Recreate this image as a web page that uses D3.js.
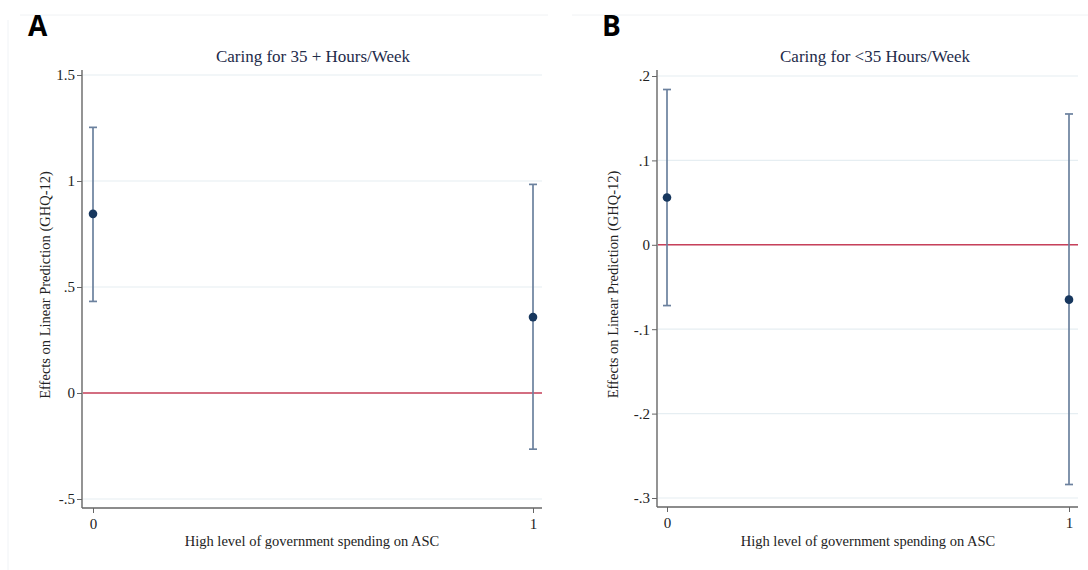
<!DOCTYPE html>
<html>
<head>
<meta charset="utf-8">
<script src="https://cdn.jsdelivr.net/npm/d3@7"></script>
<style>
  html, body { margin: 0; padding: 0; background: #fff; }
  svg { display: block; }
</style>
</head>
<body>
<svg id="chart" width="1088" height="570"></svg>
<script>
// ---- Data ----
const categories = [0, 1];
const categoryLabels = ["0", "1"];

// Panel A: Caring for 35 + Hours/Week
const estA = [0.845, 0.358];
const lowA = [0.432, -0.265];
const highA = [1.253, 0.984];
const yTicksA = [-0.5, 0, 0.5, 1, 1.5];
const yTickLabelsA = ["-.5", "0", ".5", "1", "1.5"];

// Panel B: Caring for <35 Hours/Week
const estB = [0.056, -0.065];
const lowB = [-0.072, -0.284];
const highB = [0.184, 0.155];
const yTicksB = [-0.3, -0.2, -0.1, 0, 0.1, 0.2];
const yTickLabelsB = ["-.3", "-.2", "-.1", "0", ".1", ".2"];

const titles = ["Caring for 35 + Hours/Week", "Caring for <35 Hours/Week"];
const panelLetters = ["A", "B"];
const xTitle = "High level of government spending on ASC";
const yTitle = "Effects on Linear Prediction (GHQ-12)";

// ---- Layout ----
const svg = d3.select("#chart");
const serif = "'Liberation Serif', 'Times New Roman', serif";

const panels = [
  { letter: panelLetters[0], title: titles[0], est: estA, low: lowA, high: highA,
    ticks: yTicksA, tickLabels: yTickLabelsA,
    frame: [8, 15, 548, 570], leftFrame: true,
    axisX: 82, right: 542, yTop: 75, yBot: 499, axisTop: 70, axisBottom: 508,
    x0: 93, x1: 533, letterX: 28, titleX: 313, yTitleX: 50, xTitleX: 312 },
  { letter: panelLetters[1], title: titles[1], est: estB, low: lowB, high: highB,
    ticks: yTicksB, tickLabels: yTickLabelsB,
    frame: [560, 15, 1088, 570], leftFrame: false,
    axisX: 657, right: 1078, yTop: 76, yBot: 498, axisTop: 70, axisBottom: 507,
    x0: 667, x1: 1069, letterX: 602, titleX: 875, yTitleX: 618, xTitleX: 868 }
];

panels.forEach(p => {
  const g = svg.append("g");

  // faint frame
  g.append("line").attr("x1", p.frame[0] + 12).attr("x2", p.frame[2]).attr("y1", p.frame[1]).attr("y2", p.frame[1])
    .attr("stroke", "#f0f2f4").attr("stroke-width", 1);
  if (p.leftFrame) {
    g.append("line").attr("x1", p.frame[0]).attr("x2", p.frame[0]).attr("y1", p.frame[1] + 5).attr("y2", p.frame[3])
      .attr("stroke", "#f0f3f6").attr("stroke-width", 1);
  }

  const y = d3.scaleLinear()
    .domain([p.ticks[0], p.ticks[p.ticks.length - 1]])
    .range([p.yBot, p.yTop]);
  const x = d3.scaleLinear().domain([0, 1]).range([p.x0, p.x1]);

  // gridlines
  g.append("g").selectAll("line").data(p.ticks).join("line")
    .attr("x1", p.axisX + 1).attr("x2", p.right)
    .attr("y1", d => y(d)).attr("y2", d => y(d))
    .attr("stroke", "#e6eef2").attr("stroke-width", 1.2);

  // y axis
  const yAxis = d3.axisLeft(y).tickValues(p.ticks)
    .tickFormat((d, i) => p.tickLabels[i]).tickSize(5).tickSizeOuter(0);
  const ya = g.append("g").attr("transform", `translate(${p.axisX},0)`).call(yAxis)
    .attr("font-family", serif).attr("font-size", 15);
  ya.select(".domain").remove();
  ya.append("line").attr("x1", 0).attr("x2", 0).attr("y1", p.axisTop).attr("y2", p.axisBottom)
    .attr("stroke", "#666").attr("stroke-width", 1.4);
  ya.selectAll(".tick line").attr("stroke", "#666");
  ya.selectAll(".tick text").style("font-family", serif).style("font-size", "15px").attr("fill", "#222").attr("x", -7);

  // x axis
  const xAxis = d3.axisBottom(x).tickValues(categories)
    .tickFormat((d, i) => categoryLabels[i]).tickSize(5).tickSizeOuter(0);
  const xa = g.append("g").attr("transform", `translate(0,${p.axisBottom})`).call(xAxis)
    .attr("font-family", serif).attr("font-size", 15);
  xa.select(".domain").remove();
  xa.append("line").attr("x1", p.axisX).attr("x2", p.right).attr("y1", 0).attr("y2", 0)
    .attr("stroke", "#666").attr("stroke-width", 1.4);
  xa.selectAll(".tick line").attr("stroke", "#666");
  xa.selectAll(".tick text").style("font-family", serif).style("font-size", "15px").attr("fill", "#222").attr("y", 10);

  // zero reference line
  g.append("line").attr("x1", p.axisX + 1).attr("x2", p.right)
    .attr("y1", y(0)).attr("y2", y(0))
    .attr("stroke", "#c8405a").attr("stroke-width", 1.4);

  // error bars
  const idx = d3.range(categories.length);
  const eb = g.append("g").attr("stroke", "#6b819e").attr("stroke-width", 1.7);
  eb.selectAll("line.v").data(idx).join("line").attr("class", "v")
    .attr("x1", i => x(categories[i])).attr("x2", i => x(categories[i]))
    .attr("y1", i => y(p.low[i])).attr("y2", i => y(p.high[i]));
  eb.selectAll("line.t").data(idx).join("line").attr("class", "t")
    .attr("x1", i => x(categories[i]) - 4).attr("x2", i => x(categories[i]) + 4)
    .attr("y1", i => y(p.high[i])).attr("y2", i => y(p.high[i]));
  eb.selectAll("line.b").data(idx).join("line").attr("class", "b")
    .attr("x1", i => x(categories[i]) - 4).attr("x2", i => x(categories[i]) + 4)
    .attr("y1", i => y(p.low[i])).attr("y2", i => y(p.low[i]));

  // points
  g.append("g").selectAll("circle").data(idx).join("circle")
    .attr("cx", i => x(categories[i])).attr("cy", i => y(p.est[i]))
    .attr("r", 4.3).attr("fill", "#17375e");

  // titles
  g.append("text").attr("x", p.titleX).attr("y", 62).attr("text-anchor", "middle")
    .attr("font-family", serif).attr("font-size", 17).attr("fill", "#1e2b4a").text(p.title);
  g.append("text").attr("x", p.xTitleX).attr("y", 546).attr("text-anchor", "middle")
    .attr("font-family", serif).attr("font-size", 14.5).attr("fill", "#222").text(xTitle);
  g.append("text").attr("transform", `translate(${p.yTitleX},${(p.axisTop + p.axisBottom) / 2 - 4}) rotate(-90)`)
    .attr("text-anchor", "middle")
    .attr("font-family", serif).attr("font-size", 14.5).attr("fill", "#222").text(yTitle);

  // panel letter
  g.append("text").attr("x", p.letterX).attr("y", 36)
    .attr("font-family", "'Open Sans', 'DejaVu Sans', sans-serif").attr("font-weight", 700)
    .attr("font-size", 28).attr("fill", "#000").text(p.letter);
});
</script>
</body>
</html>
